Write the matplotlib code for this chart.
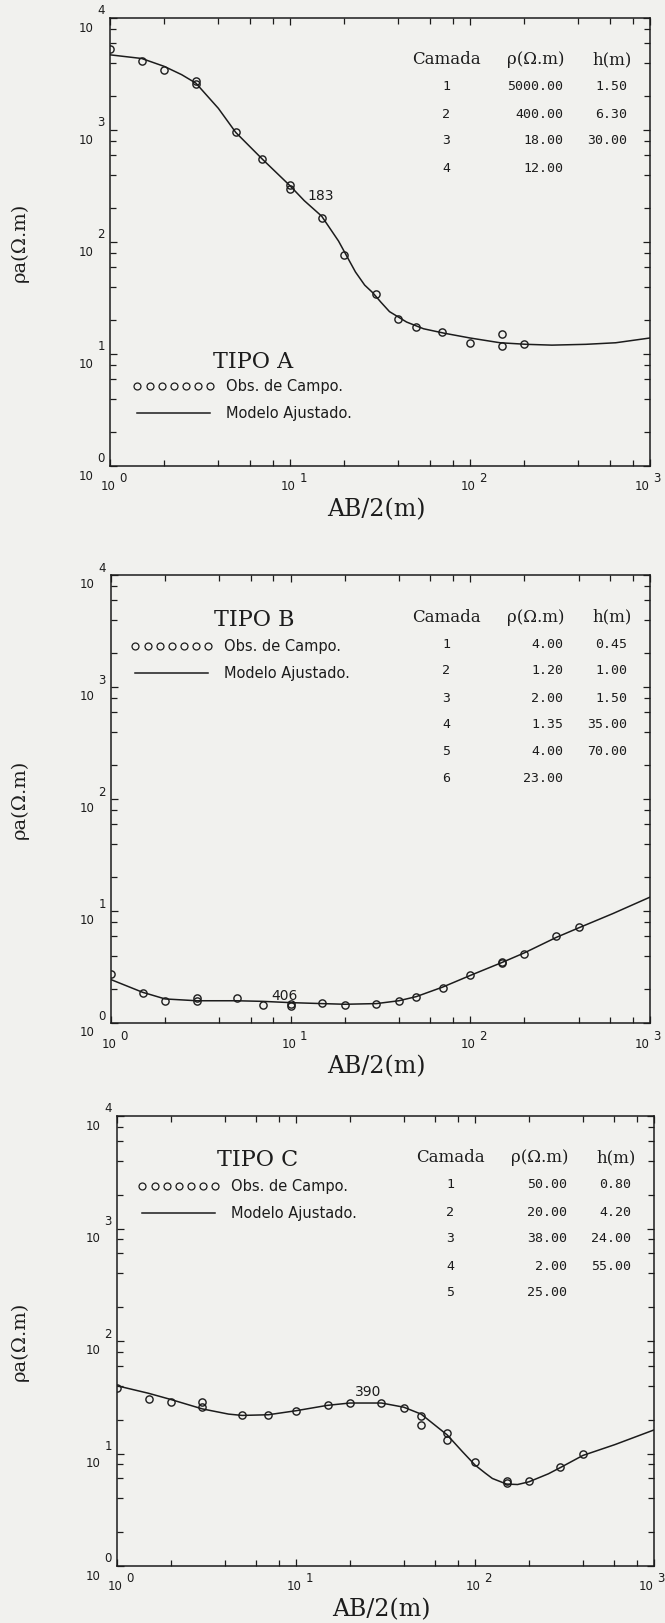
import matplotlib.pyplot as plt
from matplotlib.lines import Line2D
from matplotlib.ticker import LogLocator, NullFormatter
from matplotlib.transforms import offset_copy

W, H = 665, 1623
BG = '#f1f1ee'
INK = '#1c1c1c'

# ---------------- TIPO A ----------------
a_obs_x = [1, 1.5, 2, 3, 3, 5, 7, 10, 10, 15, 20, 30, 40, 50, 70, 100, 150, 150, 200]
a_obs_rho = [5300, 4150, 3400, 2750, 2570, 950, 552, 322, 300, 165, 77, 34, 20.5,
             17.4, 15.6, 12.6, 15.1, 11.9, 12.2]
a_mod_x = [1, 1.5, 2, 2.5, 3, 4, 5, 7, 10, 12, 15, 18.6, 23.1, 26, 28.8, 32, 35.7,
           44.4, 55.2, 72.4, 100, 147, 206, 285, 440, 645, 1000]
a_mod_rho = [4690, 4350, 3700, 3120, 2620, 1560, 950, 552, 318, 234, 170, 102, 54,
             41.2, 35.3, 29, 23.9, 19.3, 16.8, 15.3, 13.9, 12.6, 12.2, 12.0, 12.2,
             12.6, 13.9]
a_layers = ['1', '2', '3', '4']
a_rho = ['5000.00', '400.00', '18.00', '12.00']
a_h = ['1.50', '6.30', '30.00', '']

# ---------------- TIPO B ----------------
b_obs_x = [1, 1.5, 2, 3, 3, 5, 7, 10, 10, 15, 20, 30, 40, 50, 70, 100, 150, 150,
           200, 300, 400]
b_obs_rho = [2.73, 1.84, 1.58, 1.67, 1.58, 1.66, 1.45, 1.47, 1.42, 1.51, 1.45, 1.47,
             1.56, 1.72, 2.06, 2.66, 3.50, 3.42, 4.17, 5.93, 7.16]
b_mod_x = [1, 1.5, 2, 3, 5, 7, 10, 15, 20, 30, 40, 50, 70, 100, 150, 200, 300, 400,
           622, 1000]
b_mod_rho = [2.44, 1.88, 1.64, 1.58, 1.58, 1.56, 1.52, 1.49, 1.47, 1.49, 1.58, 1.72,
             2.09, 2.66, 3.47, 4.23, 5.80, 7.06, 9.49, 13.3]
b_layers = ['1', '2', '3', '4', '5', '6']
b_rho = ['4.00', '1.20', '2.00', '1.35', '4.00', '23.00']
b_h = ['0.45', '1.00', '1.50', '35.00', '70.00', '']

# ---------------- TIPO C ----------------
c_obs_x = [1, 1.5, 2, 3, 3, 5, 7, 10, 15, 20, 30, 40, 50, 50, 70, 70, 100, 150, 150,
           200, 300, 400]
c_obs_rho = [38.1, 30.3, 28.9, 28.7, 25.8, 22.1, 22.1, 24.0, 27.1, 28.1, 28.3, 25.5,
             21.6, 17.8, 15.1, 13.1, 8.4, 5.7, 5.5, 5.7, 7.6, 9.8]
c_mod_x = [1, 1.5, 2, 3, 4.2, 5, 7, 10, 15, 20, 30, 40, 50, 70, 85, 100, 114, 125,
           150, 173, 200, 257, 300, 400, 605, 1000]
c_mod_rho = [40.0, 34.3, 30.2, 24.9, 22.4, 21.8, 22.1, 24.0, 26.8, 28.1, 28.1, 25.8,
             22.4, 14.6, 10.4, 7.9, 6.7, 6.0, 5.35, 5.3, 5.6, 6.6, 7.5, 9.6, 12.0, 16.2]
c_layers = ['1', '2', '3', '4', '5']
c_rho = ['50.00', '20.00', '38.00', '2.00', '25.00']
c_h = ['0.80', '4.20', '24.00', '55.00', '']

fig = plt.figure(figsize=(W / 100, H / 100), dpi=100, facecolor=BG)


def fx(px):
    return px / W


def fy(py):
    return 1 - py / H


def panel(box, obs_x, obs_rho, mod_x, mod_rho, title, title_xy, leg_xy,
          station, station_xy, layers, rhos, hs):
    L, T, R, B = box
    ax = fig.add_axes([fx(L), fy(B), (R - L) / W, (B - T) / H])
    ax.set_facecolor(BG)
    ax.set_xscale('log')
    ax.set_yscale('log')
    ax.set_xlim(1, 1000)
    ax.set_ylim(1, 10000)

    ax.plot(mod_x, mod_rho, color=INK, lw=1.1)
    ax.plot(obs_x, obs_rho, ls='none', marker='o', ms=5.2, mfc='none',
            mec=INK, mew=1.0)

    for a in (ax.xaxis, ax.yaxis):
        a.set_major_locator(LogLocator(base=10, numticks=10))
        a.set_minor_locator(LogLocator(base=10, subs=(2, 4, 6, 8), numticks=10))
        a.set_minor_formatter(NullFormatter())
    ax.tick_params(which='both', direction='in', top=True, right=True,
                   labelbottom=False, labelleft=False, color=INK, width=0.9)
    ax.tick_params(which='major', length=5)
    ax.tick_params(which='minor', length=4)
    for s in ax.spines.values():
        s.set_linewidth(1.1)
        s.set_color(INK)

    # decade labels written as "10" with a raised exponent
    tf = dict(family='DejaVu Sans', size=8.5, color=INK, ha='center', va='center')
    for e in range(0, 5):
        ax.text(0, 10 ** e, '10', transform=offset_copy(
            ax.get_yaxis_transform(), fig=fig, x=-24, y=-10, units='dots'), **tf)
        ax.text(0, 10 ** e, str(e), transform=offset_copy(
            ax.get_yaxis_transform(), fig=fig, x=-9, y=7, units='dots'), **tf)
    for e in range(0, 4):
        shift = -6 if e == 3 else 0
        ax.text(10 ** e, 0, '10', transform=offset_copy(
            ax.get_xaxis_transform(), fig=fig, x=-2 + shift, y=-21,
            units='dots'), **tf)
        ax.text(10 ** e, 0, str(e), transform=offset_copy(
            ax.get_xaxis_transform(), fig=fig, x=13 + shift, y=-13,
            units='dots'), **tf)

    ax.set_xlabel('AB/2(m)', family='DejaVu Serif', size=17, color=INK, va='center')
    ax.xaxis.set_label_coords(0.5 - 4 / (R - L), -44 / (B - T))
    ax.set_ylabel('ρa(Ω.m)', family='DejaVu Serif', size=14, color=INK, va='center')
    ax.yaxis.set_label_coords((20 - L) / (R - L), 0.5)

    fig.text(fx(title_xy[0]), fy(title_xy[1]), title, family='DejaVu Serif',
             size=16, color=INK, ha='center', va='center')
    fig.text(fx(station_xy[0]), fy(station_xy[1]), station, family='DejaVu Sans',
             size=10, color=INK, ha='center', va='center')

    h_obs = Line2D([], [], ls='none', marker='o', ms=5, mfc='none', mec=INK, mew=0.9)
    h_mod = Line2D([], [], color=INK, lw=1.1)
    leg = ax.legend([h_obs, h_mod], ['Obs. de Campo.', 'Modelo Ajustado.'],
                    numpoints=7, loc='upper left',
                    bbox_to_anchor=(fx(leg_xy[0]), fy(leg_xy[1])),
                    bbox_transform=fig.transFigure, frameon=False,
                    handlelength=5.6, handletextpad=0.8, labelspacing=0.8,
                    borderpad=0, borderaxespad=0,
                    prop={'family': 'DejaVu Sans', 'size': 10.5})
    for t in leg.get_texts():
        t.set_color(INK)

    # layer table
    hy = T + 42
    hf = dict(family='DejaVu Serif', size=12, color=INK, va='center')
    fig.text(fx(R - 238), fy(hy), 'Camada', ha='left', **hf)
    fig.text(fx(R - 85), fy(hy), 'ρ(Ω.m)', ha='right', **hf)
    fig.text(fx(R - 18), fy(hy), 'h(m)', ha='right', **hf)
    nf = dict(family='DejaVu Sans Mono', size=9.5, color=INK, va='center')
    for i, (n, r, h) in enumerate(zip(layers, rhos, hs)):
        y = fy(hy + 27 * (i + 1))
        fig.text(fx(R - 204), y, n, ha='center', **nf)
        fig.text(fx(R - 87), y, r, ha='right', **nf)
        fig.text(fx(R - 23), y, h, ha='right', **nf)
    return ax


panel((110, 18, 650, 466), a_obs_x, a_obs_rho, a_mod_x, a_mod_rho,
      'TIPO A', (253, 362), (133, 379), '183', (321, 196),
      a_layers, a_rho, a_h)
panel((111, 575, 650, 1023), b_obs_x, b_obs_rho, b_mod_x, b_mod_rho,
      'TIPO B', (254, 620), (131, 639), '406', (285, 996),
      b_layers, b_rho, b_h)
panel((117, 1116, 654, 1566), c_obs_x, c_obs_rho, c_mod_x, c_mod_rho,
      'TIPO C', (258, 1160), (138, 1179), '390', (368, 1392),
      c_layers, c_rho, c_h)

fig.savefig('out.png', dpi=100, facecolor=BG)
